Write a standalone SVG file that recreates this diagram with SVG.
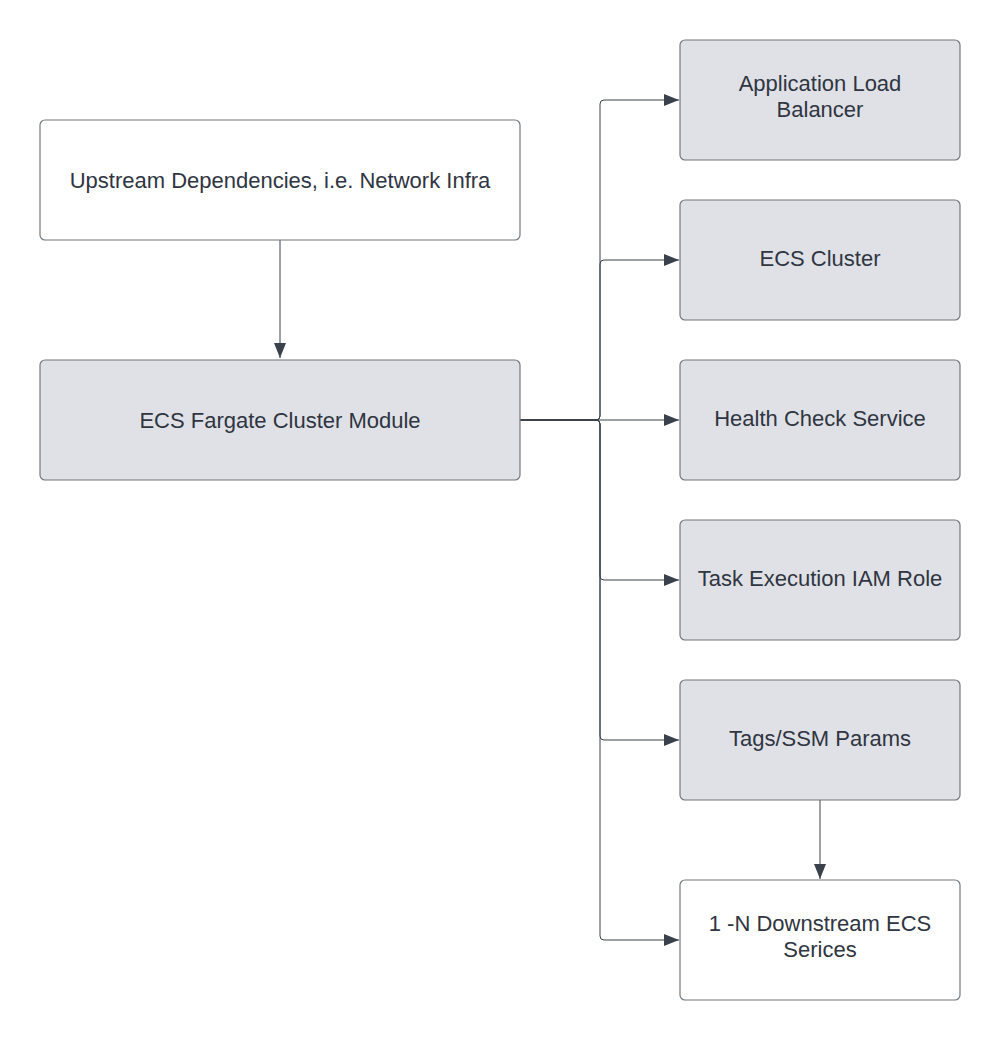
<svg xmlns="http://www.w3.org/2000/svg" width="1000" height="1040" viewBox="0 0 1000 1040">
<style>
.box{stroke:#73787f;stroke-width:1.2}
.g{fill:#dfe1e6}
.w{fill:#ffffff}
.t{font-family:"Liberation Sans",Arial,sans-serif;font-size:22px;fill:#2f3541;text-anchor:middle}
.c{fill:none;stroke:#3a414a;stroke-width:1}
</style>
<defs>
<marker id="ah" markerWidth="15" markerHeight="12" refX="15" refY="6" orient="auto" markerUnits="userSpaceOnUse">
<path d="M0,0 L15,6 L0,12 Z" fill="#3a414a"/>
</marker>
</defs>
<rect width="1000" height="1040" fill="#ffffff"/>
<g id="connectors">
<path class="c" d="M280,240 V358" marker-end="url(#ah)"/>
<path class="c" d="M520,420 H596 Q600,420 600,416 V104 Q600,100 604,100 H679" marker-end="url(#ah)"/>
<path class="c" d="M520,420 H596 Q600,420 600,416 V264 Q600,260 604,260 H679" marker-end="url(#ah)"/>
<path class="c" d="M520,420 H679" marker-end="url(#ah)"/>
<path class="c" d="M520,420 H596 Q600,420 600,424 V576 Q600,580 604,580 H679" marker-end="url(#ah)"/>
<path class="c" d="M520,420 H596 Q600,420 600,424 V736 Q600,740 604,740 H679" marker-end="url(#ah)"/>
<path class="c" d="M520,420 H596 Q600,420 600,424 V936 Q600,940 604,940 H679" marker-end="url(#ah)"/>
<path class="c" d="M820,800 V879" marker-end="url(#ah)"/>
</g>
<g id="upstream">
<rect class="box w" x="40" y="120" width="480" height="120" rx="5"/>
<text class="t" x="280" y="188">Upstream Dependencies, i.e. Network Infra</text>
</g>
<g id="fargate">
<rect class="box g" x="40" y="360" width="480" height="120" rx="5"/>
<text class="t" x="280" y="428">ECS Fargate Cluster Module</text>
</g>
<g id="alb">
<rect class="box g" x="680" y="40" width="280" height="120" rx="5"/>
<text class="t" x="820" y="91">Application Load</text>
<text class="t" x="820" y="117">Balancer</text>
</g>
<g id="ecscluster">
<rect class="box g" x="680" y="200" width="280" height="120" rx="5"/>
<text class="t" x="820" y="266">ECS Cluster</text>
</g>
<g id="health">
<rect class="box g" x="680" y="360" width="280" height="120" rx="5"/>
<text class="t" x="820" y="426">Health Check Service</text>
</g>
<g id="iam">
<rect class="box g" x="680" y="520" width="280" height="120" rx="5"/>
<text class="t" x="820" y="586">Task Execution IAM Role</text>
</g>
<g id="tags">
<rect class="box g" x="680" y="680" width="280" height="120" rx="5"/>
<text class="t" x="820" y="746">Tags/SSM Params</text>
</g>
<g id="downstream">
<rect class="box w" x="680" y="880" width="280" height="120" rx="5"/>
<text class="t" x="820" y="931">1 -N Downstream ECS</text>
<text class="t" x="820" y="957">Serices</text>
</g>
</svg>
